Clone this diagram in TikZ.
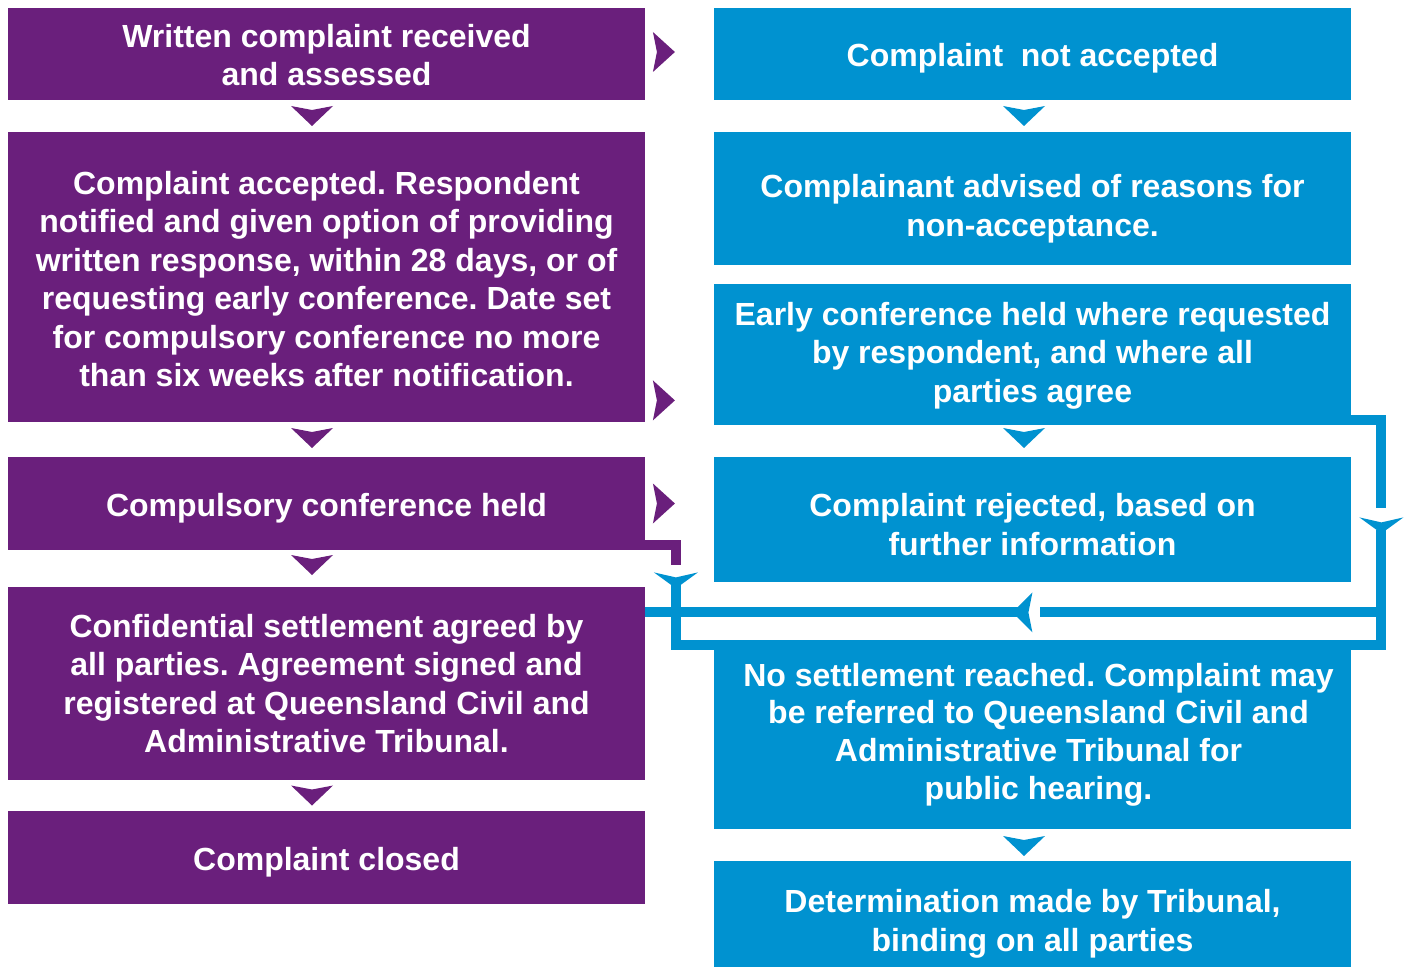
\documentclass[tikz,border=0pt]{standalone}
\usepackage{fontspec}
\setmainfont{Liberation Sans}
\frenchspacing
\usepackage{tikz}
\usetikzlibrary{calc}
\definecolor{qpurple}{RGB}{106,31,124}
\definecolor{qblue}{RGB}{0,146,208}
\tikzset{
every picture/.style={x=0.5pt,y=-0.5pt},
box/.style={rectangle, inner sep=0pt, minimum width=318.5pt},
leftbox/.style={box, fill=qpurple},
rightbox/.style={box, fill=qblue},
boxtext/.style={inner sep=0pt, align=center, text=white,
  font=\fontsize{16}{19.25}\selectfont\bfseries},
flow/.style={line width=5pt, qblue},
chevdown/.pic={\fill (-21,-10) -- (0,-6) -- (21,-10) -- (0,10) -- cycle;},
chevright/.pic={\fill (-11,-20) -- (11,0) -- (-11,20) -- (-7,0) -- cycle;},
chevleft/.pic={\fill (10,-20) -- (-10,0) -- (10,20) -- (6,0) -- cycle;},
chevmeet/.pic={\fill (-22,-8) -- (0,-3) -- (22,-8) -- (0,8) -- cycle;}
}

\begin{document}
\begin{tikzpicture}
    \useasboundingbox (0,0) rectangle (1411,968);
    % left column
    \node[leftbox, minimum height=46pt] (L1) at (326.5,54) {};
    \node[leftbox, minimum height=145pt] (L2) at (326.5,277) {};
    \node[leftbox, minimum height=46.5pt] (L3) at (326.5,503.5) {};
    \node[leftbox, minimum height=96.5pt] (L4) at (326.5,683.5) {};
    \node[leftbox, minimum height=46.5pt] (L5) at (326.5,857.5) {};
    \node[boxtext] (L1t) at ($(L1)+(0,1)$) {Written complaint received\\and assessed};
    \node[boxtext] (L2t) at ($(L2)+(0,2)$) {Complaint accepted. Respondent\\notified and given option of providing\\written response, within 28 days, or of\\requesting early conference. Date set\\for compulsory conference no more\\than six weeks after notification.};
    \node[boxtext] (L3t) at ($(L3)+(0,5)$) {Compulsory conference held};
    \node[boxtext] (L4t) at (L4) {Confidential settlement agreed by\\all parties. Agreement signed and\\registered at Queensland Civil and\\Administrative Tribunal.};
    \node[boxtext] (L5t) at ($(L5)+(0,5)$) {Complaint closed};
    % right column
    \node[rightbox, minimum height=46pt] (R1) at (1032.5,54) {};
    \node[rightbox, minimum height=66.5pt] (R2) at (1032.5,198.5) {};
    \node[rightbox, minimum height=70.5pt] (R3) at (1032.5,354.5) {};
    \node[rightbox, minimum height=62.5pt] (R4) at (1032.5,519.5) {};
    \node[rightbox, minimum height=89.5pt] (R5) at (1032.5,739.5) {};
    \node[rightbox, minimum height=53pt] (R6) at (1032.5,914) {};
    \node[boxtext] (R1t) at ($(R1)+(0,4)$) {Complaint~~not accepted};
    \node[boxtext] (R2t) at ($(R2)+(0,10)$) {Complainant advised of reasons for\\non-acceptance.};
    \node[boxtext] (R3t) at ($(R3)+(0,1)$) {Early conference held where requested\\by respondent, and where all\\parties agree};
    \node[boxtext] (R4t) at ($(R4)+(0,5)$) {Complaint rejected, based on\\further information};
    \node[boxtext, font=\fontsize{16}{18.85}\selectfont\bfseries] (R5t) at ($(R5)+(6,-5)$) {No settlement reached. Complaint may\\be referred to Queensland Civil and\\Administrative Tribunal for\\public hearing.};
    \node[boxtext] (R6t) at ($(R6)+(0,10)$) {Determination made by Tribunal,\\binding on all parties};

    % connectors
    \coordinate (c1) at ($(L3.south east)+(30.5,-5)$);
    \coordinate (c2) at ($(R3.south east)+(30,-5)$);
    \coordinate (c3) at ($(c1)+(0,100)$);
    \draw[line width=5pt, qpurple] ($(L3.south east)+(-25,-5)$) -- (c1) -- ++(0,20);
    \draw[flow] ($(R3.south east)+(-20,-5)$) -- (c2) -- ++(0,88);
    \draw[flow] ($(c1)+(0,40)$) -- (c3) -- (c3 -| c2) -- ($(c2)+(0,110)$);
    \draw[flow] ($(c2)+(0,192)$) -- ++(-341.5,0);
    \draw[flow] ($(c2)+(-359,192)$) -- (L4.east |- {$(c2)+(0,192)$});

    % arrow heads
    \foreach \a/\b/\d in {L1/L2/0, L2/L3/-1.5, L3/L4/-3.5, L4/L5/0}
      \pic[qpurple] at ($(\a.south)!0.5!(\b.north)+(-14.5,\d)$) {chevdown};
    \foreach \a/\b/\d in {R1/R2/0, R3/R4/-3, R5/R6/1}
      \pic[qblue] at ($(\a.south)!0.5!(\b.north)+(-8.5,\d)$) {chevdown};
    \pic[qpurple] at ($(L1.east)+(18.5,-2)$) {chevright};
    \pic[qpurple] at ($(L2.south east)+(18.5,-22)$) {chevright};
    \pic[qpurple] at ($(L3.east)+(18.5,0)$) {chevright};
    \pic[qblue] at ($(c1)+(0,35)$) {chevmeet};
    \pic[qblue] at ($(c2)+(0,105)$) {chevmeet};
    \pic[qblue] at ($(c2)+(-359,192)$) {chevleft};
  \end{tikzpicture}
\end{document}
